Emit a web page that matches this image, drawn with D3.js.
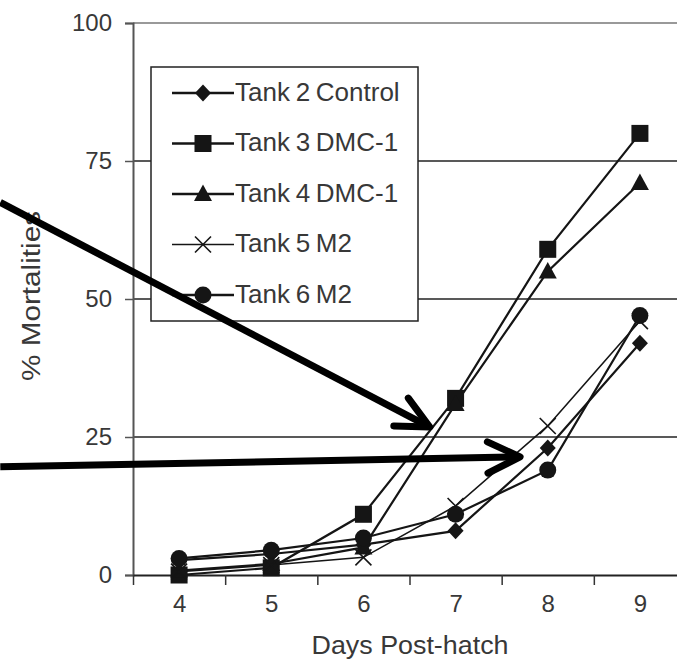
<!DOCTYPE html>
<html>
<head>
<meta charset="utf-8">
<script src="https://cdn.jsdelivr.net/npm/d3@7"></script>
<style>
  body { margin: 0; background: #fff; }
  svg { display: block; font-family: "Liberation Sans", Arial, sans-serif; }
</style>
</head>
<body>
<div id="chart"></div>
<script>
// days post-hatch and % mortalities per tank
var days = [4, 5, 6, 7, 8, 9];
var tank2 = [2.7, 3.8, 5.5, 8, 23, 42];
var tank3 = [0, 1.3, 11, 32, 59, 80];
var tank4 = [0.8, 2, 5, 31, 55, 71];
var tank5 = [0.6, 1.8, 3.2, 12.5, 27, 46];
var tank6 = [3, 4.5, 6.7, 11, 19, 47];
var names = ["Tank 2 Control", "Tank 3 DMC-1", "Tank 4 DMC-1", "Tank 5 M2", "Tank 6 M2"];
var shapes = ["diamond", "square", "triangle", "cross", "circle"];
var yTicks = [0, 25, 50, 75, 100];

// annotation arrows (data units: [day, %])
var arrows = [
  [[2.06, 67.5], [6.72, 26.8]],
  [[2.06, 19.6], [7.70, 21.4]]
];

var width = 677, height = 664;
var svg = d3.select('#chart').append('svg')
  .attr('width', width)
  .attr('height', height);

var x = d3.scaleLinear().domain([3.5, 9.5]).range([133, 686]);
var y = d3.scaleLinear().domain([0, 100]).range([575, 23]);

var series = [tank2, tank3, tank4, tank5, tank6].map(function(v, i) {
  return { name: names[i], shape: shapes[i], values: v };
});

var ink = '#151515', txt = '#383838';

// gridlines
svg.append('g').selectAll('line')
  .data(yTicks.slice(1))
  .enter().append('line')
  .attr('x1', x.range()[0]).attr('x2', x.range()[1])
  .attr('y1', function(d) { return y(d); })
  .attr('y2', function(d) { return y(d); })
  .attr('stroke', function(d) { return d == 100 ? '#777' : '#222'; })
  .attr('stroke-width', 1.5);

// y axis
var yAxis = svg.append('g')
  .attr('transform', 'translate(133,0)')
  .call(d3.axisLeft(y).tickValues(yTicks).tickSize(8).tickPadding(13));
yAxis.select('.domain').attr('stroke', '#555').attr('stroke-width', 2);
yAxis.selectAll('.tick line').attr('stroke', '#555').attr('stroke-width', 1.5);
yAxis.selectAll('text').attr('font-size', 24).attr('fill', txt).attr('font-family', null);

// x axis: ticks between days, labels on days
var xAxis = svg.append('g')
  .attr('transform', 'translate(0,575)')
  .call(d3.axisBottom(x).tickValues(d3.range(3.5, 10, 1)).tickSize(10).tickFormat('').tickSizeOuter(0));
xAxis.select('.domain').attr('stroke', '#222').attr('stroke-width', 2);
xAxis.selectAll('.tick line').attr('stroke', '#333').attr('stroke-width', 1.5);

var xLab = svg.append('g')
  .attr('transform', 'translate(0,575)')
  .call(d3.axisBottom(x).tickValues(days).tickSize(0).tickPadding(20).tickFormat(d3.format('d')));
xLab.select('.domain').remove();
xLab.selectAll('text').attr('font-size', 24).attr('fill', txt).attr('font-family', null);

// axis titles
svg.append('text')
  .attr('x', 410).attr('y', 647)
  .attr('text-anchor', 'middle').attr('dominant-baseline', 'middle')
  .attr('font-size', 25).attr('fill', txt)
  .attr('textLength', 197).attr('lengthAdjust', 'spacingAndGlyphs')
  .text('Days Post-hatch');

svg.append('text')
  .attr('transform', 'translate(33,296) rotate(-90)')
  .attr('text-anchor', 'middle').attr('dominant-baseline', 'middle')
  .attr('font-size', 25).attr('fill', txt)
  .attr('textLength', 170).attr('lengthAdjust', 'spacingAndGlyphs')
  .text('%  Mortalities');

function marker(g, shape) {
  if (shape == 'diamond') {
    g.append('path').attr('d', 'M0,-8.5L8,0L0,8.5L-8,0Z').attr('fill', ink);
  } else if (shape == 'square') {
    g.append('rect').attr('x', -8.5).attr('y', -8.5).attr('width', 17).attr('height', 17).attr('fill', ink);
  } else if (shape == 'triangle') {
    g.append('path').attr('d', 'M0,-9.5L9,7L-9,7Z').attr('fill', ink);
  } else if (shape == 'cross') {
    g.append('path').attr('d', 'M-8,-8L8,8M-8,8L8,-8').attr('stroke', ink).attr('stroke-width', 1.6).attr('fill', 'none');
  } else {
    g.append('circle').attr('r', 8.5).attr('fill', ink);
  }
}

var line = d3.line()
  .x(function(d, i) { return x(days[i]); })
  .y(function(d) { return y(d); });

// lines
svg.append('g').selectAll('path')
  .data(series)
  .enter().append('path')
  .attr('d', function(d) { return line(d.values); })
  .attr('fill', 'none')
  .attr('stroke', ink)
  .attr('stroke-width', function(d) { return d.shape == 'cross' ? 1.6 : 2.2; });

// markers
series.forEach(function(s) {
  s.values.forEach(function(v, i) {
    var g = svg.append('g').attr('transform', 'translate(' + x(days[i]) + ',' + y(v) + ')');
    marker(g, s.shape);
  });
});

// legend
var legend = svg.append('g');
legend.append('rect')
  .attr('x', 151).attr('y', 67).attr('width', 267).attr('height', 254)
  .attr('fill', '#fff').attr('stroke', '#222').attr('stroke-width', 1.5);

series.forEach(function(s, i) {
  var ly = 93 + i * 50.5;
  var g = legend.append('g').attr('transform', 'translate(0,' + ly + ')');
  g.append('line').attr('x1', 172).attr('x2', 234).attr('y1', 0).attr('y2', 0)
    .attr('stroke', ink).attr('stroke-width', s.shape == 'cross' ? 1.5 : 2.5);
  marker(g.append('g').attr('transform', 'translate(203,0)'), s.shape);
  g.append('text')
    .attr('x', 235).attr('y', 1)
    .attr('dominant-baseline', 'middle')
    .attr('font-size', 26).attr('fill', txt)
    .attr('word-spacing', -1.5)
    .text(s.name);
});

// arrows
arrows.forEach(function(a) {
  var x0 = x(a[0][0]), y0 = y(a[0][1]), x1 = x(a[1][0]), y1 = y(a[1][1]);
  var ang = Math.atan2(y0 - y1, x0 - x1), len = 36, spread = 0.45;
  var g = svg.append('g')
    .attr('stroke', '#000').attr('stroke-width', 7).attr('fill', 'none')
    .attr('stroke-linecap', 'round').attr('stroke-linejoin', 'round');
  g.append('line').attr('x1', x0).attr('y1', y0).attr('x2', x1).attr('y2', y1).attr('stroke-linecap', 'butt');
  g.append('path').attr('d',
    'M' + (x1 + len * Math.cos(ang + spread)) + ',' + (y1 + len * Math.sin(ang + spread)) +
    'L' + x1 + ',' + y1 +
    'L' + (x1 + len * Math.cos(ang - spread)) + ',' + (y1 + len * Math.sin(ang - spread)));
});
</script>
</body>
</html>
